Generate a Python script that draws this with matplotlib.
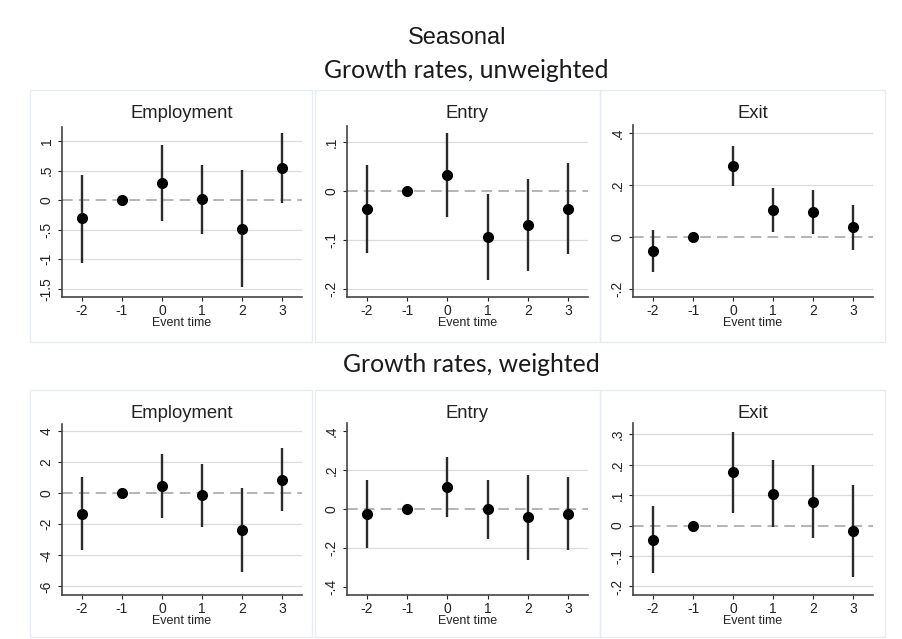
import matplotlib.pyplot as plt
from matplotlib.patches import Rectangle

# event times on the x axis
event_time = [-2, -1, 0, 1, 2, 3]
x_labels = ['-2', '-1', '0', '1', '2', '3']

# growth rates, unweighted
emp_u = [-0.31, 0.0, 0.29, 0.02, -0.48, 0.54]
emp_u_lo = [-1.06, 0.0, -0.35, -0.58, -1.47, -0.05]
emp_u_hi = [0.42, 0.0, 0.93, 0.59, 0.51, 1.13]

ent_u = [-0.036, 0.0, 0.033, -0.094, -0.070, -0.036]
ent_u_lo = [-0.126, 0.0, -0.053, -0.181, -0.162, -0.129]
ent_u_hi = [0.053, 0.0, 0.118, -0.006, 0.024, 0.058]

exi_u = [-0.054, 0.0, 0.272, 0.105, 0.095, 0.037]
exi_u_lo = [-0.135, 0.0, 0.195, 0.019, 0.010, -0.051]
exi_u_hi = [0.026, 0.0, 0.351, 0.190, 0.180, 0.123]

# growth rates, weighted
emp_w = [-1.33, 0.0, 0.47, -0.13, -2.40, 0.86]
emp_w_lo = [-3.65, 0.0, -1.61, -2.15, -5.09, -1.12]
emp_w_hi = [1.01, 0.0, 2.53, 1.87, 0.32, 2.90]

ent_w = [-0.027, 0.0, 0.115, -0.002, -0.043, -0.026]
ent_w_lo = [-0.202, 0.0, -0.039, -0.156, -0.262, -0.210]
ent_w_hi = [0.149, 0.0, 0.265, 0.149, 0.174, 0.162]

exi_w = [-0.047, 0.0, 0.175, 0.105, 0.079, -0.018]
exi_w_lo = [-0.155, 0.0, 0.041, -0.003, -0.042, -0.168]
exi_w_hi = [0.065, 0.0, 0.308, 0.214, 0.200, 0.134]

# y ticks (Stata style labels)
emp_u_ticks = [-1.5, -1, -0.5, 0, 0.5, 1]
emp_u_labels = ['-1.5', '-1', '-.5', '0', '.5', '1']
ent_u_ticks = [-0.2, -0.1, 0, 0.1]
ent_u_labels = ['-.2', '-.1', '0', '.1']
exi_u_ticks = [-0.2, 0, 0.2, 0.4]
exi_u_labels = ['-.2', '0', '.2', '.4']
emp_w_ticks = [-6, -4, -2, 0, 2, 4]
emp_w_labels = ['-6', '-4', '-2', '0', '2', '4']
ent_w_ticks = [-0.4, -0.2, 0, 0.2, 0.4]
ent_w_labels = ['-.4', '-.2', '0', '.2', '.4']
exi_w_ticks = [-0.2, -0.1, 0, 0.1, 0.2, 0.3]
exi_w_labels = ['-.2', '-.1', '0', '.1', '.2', '.3']

W, H = 903, 639
plt.rcParams['font.family'] = ['Liberation Sans', 'DejaVu Sans']
fig = plt.figure(figsize=(W / 100, H / 100), dpi=100)
fig.patch.set_facecolor('white')


def px_axes(left, top, right, bottom):
    return fig.add_axes([left / W, 1 - bottom / H, (right - left) / W, (bottom - top) / H])


def panel(ax, title, title_y, y, lo, hi, ticks, labels, ylim, grid_vals):
    ax.set_xlim(-2.5, 3.5)
    ax.set_ylim(*ylim)
    for g in grid_vals:
        ax.axhline(g, color='#dcdcdc', lw=0.9, zorder=0)
    ax.axhline(0, color='#a0a0a0', lw=1.1, ls=(0, (7, 4)), zorder=1)
    ax.vlines(event_time, lo, hi, color='#2b2b2b', lw=1.7, zorder=2)
    ax.plot(event_time, y, 'o', color='black', ms=7, zorder=3)
    ax.set_xticks(event_time)
    ax.set_xticklabels(x_labels)
    ax.set_yticks(ticks)
    ax.set_yticklabels(labels, rotation=90, va='center')
    ax.tick_params(axis='both', labelsize=10, colors='#222222', length=3, width=0.8)
    ax.tick_params(axis='x', pad=2)
    ax.tick_params(axis='y', pad=3)
    for s in ['top', 'right']:
        ax.spines[s].set_visible(False)
    for s in ['left', 'bottom']:
        ax.spines[s].set_color('#444444')
        ax.spines[s].set_linewidth(1.2)
    ax.set_xlabel('Event time', fontsize=9, color='#222222', labelpad=-1)
    ax.set_facecolor('none')
    box = ax.get_position()
    fig.text((box.x0 + box.x1) / 2, 1 - title_y / H, title, ha='center', va='center',
             fontsize=13.3, color='#222222')


# panel borders
for (l, t, r, b) in [(30, 90, 312, 342), (315, 90, 600, 342), (600, 90, 885, 342),
                     (30, 390, 312, 637), (315, 390, 600, 637), (600, 390, 885, 637)]:
    fig.patches.append(Rectangle((l / W, 1 - b / H), (r - l) / W, (b - t) / H,
                                 transform=fig.transFigure, fill=False,
                                 edgecolor='#e6ecf2', lw=1.0))

ax1 = px_axes(62, 127, 302, 297)
panel(ax1, 'Employment', 113, emp_u, emp_u_lo, emp_u_hi, emp_u_ticks, emp_u_labels,
      (-1.64, 1.24), [-1.5, -1, -0.5, 0.5, 1])
ax2 = px_axes(347, 126, 588, 297)
panel(ax2, 'Entry', 113, ent_u, ent_u_lo, ent_u_hi, ent_u_ticks, ent_u_labels,
      (-0.216, 0.133), [-0.2, -0.1, 0.1])
ax3 = px_axes(633, 125, 873, 297)
panel(ax3, 'Exit', 113, exi_u, exi_u_lo, exi_u_hi, exi_u_ticks, exi_u_labels,
      (-0.232, 0.432), [-0.2, 0.2, 0.4])

ax4 = px_axes(62, 424, 302, 595)
panel(ax4, 'Employment', 413, emp_w, emp_w_lo, emp_w_hi, emp_w_ticks, emp_w_labels,
      (-6.55, 4.44), [-6, -4, -2, 2, 4])
ax5 = px_axes(347, 423, 588, 595)
panel(ax5, 'Entry', 413, ent_w, ent_w_lo, ent_w_hi, ent_w_ticks, ent_w_labels,
      (-0.44, 0.44), [-0.2, 0.2])
ax6 = px_axes(633, 423, 873, 595)
panel(ax6, 'Exit', 413, exi_w, exi_w_lo, exi_w_hi, exi_w_ticks, exi_w_labels,
      (-0.228, 0.337), [-0.2, -0.1, 0.1, 0.2, 0.3])

fig.text(457 / W, 1 - 38 / H, 'Seasonal', ha='center', va='center',
         fontsize=17, color='#1a1a1a')
fig.text(466 / W, 1 - 70 / H, 'Growth rates, unweighted', ha='center', va='center',
         fontsize=17.8, color='#1a1a1a', family=['Lato', 'DejaVu Sans'])
fig.text(471 / W, 1 - 365 / H, 'Growth rates, weighted', ha='center', va='center',
         fontsize=17.8, color='#1a1a1a', family=['Lato', 'DejaVu Sans'])

fig.savefig('out.png', dpi=100)
